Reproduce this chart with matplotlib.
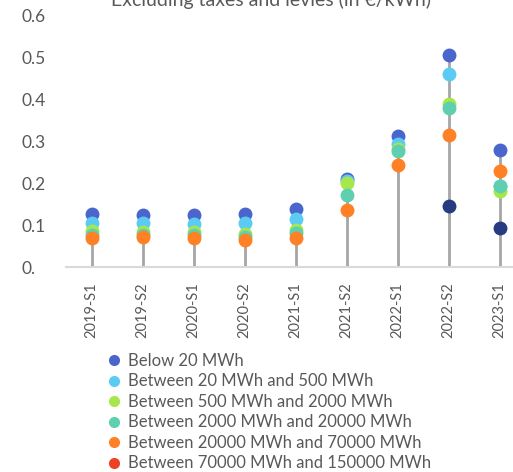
import numpy as np
import matplotlib
matplotlib.use("Agg")
import matplotlib.pyplot as plt
from matplotlib.lines import Line2D

plt.rcParams["font.family"] = ["Lato", "DejaVu Sans"]

# Half-year periods
periods = ["2019-S1", "2019-S2", "2020-S1", "2020-S2", "2021-S1",
           "2021-S2", "2022-S1", "2022-S2", "2023-S1"]

# Prices excluding taxes and levies (EUR/kWh) per consumption band
below_20 = [0.127, 0.123, 0.123, 0.127, 0.138, 0.210, 0.313, 0.504, 0.279]
band_20_500 = [0.104, 0.104, 0.102, 0.105, 0.115, 0.205, 0.293, 0.460, 0.193]
band_500_2000 = [0.085, 0.084, 0.084, 0.080, 0.088, 0.200, 0.281, 0.388, 0.182]
band_2000_20000 = [0.076, 0.077, 0.076, 0.072, 0.082, 0.171, 0.276, 0.380, 0.193]
band_20000_70000 = [0.069, 0.072, 0.070, 0.064, 0.069, 0.135, 0.243, 0.315, 0.230]
band_70000_150000 = [np.nan] * 9
above_150000 = [np.nan, np.nan, np.nan, np.nan, np.nan, np.nan, np.nan, 0.145, 0.093]

series = [
    ("Below 20 MWh", below_20, "#4A66CC"),
    ("Between 20 MWh and 500 MWh", band_20_500, "#5BCBF3"),
    ("Between 500 MWh and 2000 MWh", band_500_2000, "#A6E84C"),
    ("Between 2000 MWh and 20000 MWh", band_2000_20000, "#5ECFB1"),
    ("Between 20000 MWh and 70000 MWh", band_20000_70000, "#FF8025"),
    ("Between 70000 MWh and 150000 MWh", band_70000_150000, "#EE4126"),
    ("Above 150000 MWh", above_150000, "#263B80"),
]

fig = plt.figure(figsize=(5.13, 4.72), dpi=100)
ax = fig.add_axes([0.129, 0.434, 0.895, 0.534])

x = np.arange(len(periods))
all_vals = np.array([s[1] for s in series], dtype=float)
tops = np.nanmax(all_vals, axis=0)

# high-low style stems from the baseline up to the highest band
ax.vlines(x, 0, tops, color="#A6A6A6", linewidth=2, zorder=1)

for name, vals, color in series:
    ax.plot(x, vals, linestyle="none", marker="o", markersize=10,
            color=color, markeredgewidth=0, zorder=2)

ax.set_xlim(-0.5, len(periods) - 0.5)
ax.set_ylim(0, 0.6)
ax.set_yticks([0, 0.1, 0.2, 0.3, 0.4, 0.5, 0.6])
ax.set_yticklabels(["0.", "0.1", "0.2", "0.3", "0.4", "0.5", "0.6"],
                   ha="left", fontsize=12.5, color="#595959")
ax.tick_params(axis="y", length=0, pad=32)
ax.set_xticks(x)
ax.set_xticklabels(periods, rotation=90, fontsize=10.5, color="#595959")
ax.tick_params(axis="x", length=0, pad=11)

for side in ["top", "right", "left"]:
    ax.spines[side].set_visible(False)
ax.spines["bottom"].set_color("#D9D9D9")
ax.spines["bottom"].set_linewidth(1.5)

fig.text(0.528, 1.0, "Excluding taxes and levies (in €/kWh)",
         ha="center", va="center", fontsize=14, color="#595959")

handles = [Line2D([], [], linestyle="none", marker="o", markersize=8,
                  markeredgewidth=0, color=c, label=n)
           for n, v, c in series[:6]]
fig.legend(handles=handles, loc="upper left", bbox_to_anchor=(0.19, 0.270),
           frameon=False, fontsize=12, handletextpad=0.35, labelspacing=0.27,
           borderpad=0, handlelength=1.0, labelcolor="#595959")

fig.savefig("out.png", dpi=100)
